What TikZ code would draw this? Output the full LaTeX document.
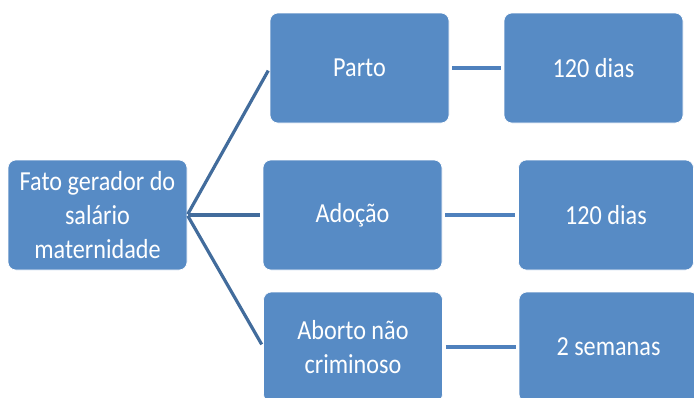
\documentclass[tikz,border=0pt]{standalone}
\usepackage{fontspec}
\setmainfont[FakeStretch=0.88]{Carlito}
\definecolor{boxfill}{RGB}{87,139,197}
\definecolor{slantline}{RGB}{66,108,156}
\definecolor{flatline}{RGB}{79,129,189}
\tikzset{
  sbox/.style={draw=white, line width=0.6pt, fill=boxfill, rounded corners=8pt,
    minimum width=179pt, minimum height=110pt, inner sep=0pt, align=center,
    text=white, font=\fontsize{27.5}{34}\selectfont},
  slant/.style={draw=slantline, line width=3.2pt, shorten >=3pt, shorten <=1pt},
  flat/.style={draw=flatline, line width=3.2pt, shorten >=3pt, shorten <=3pt},
}
\begin{document}
\begin{tikzpicture}[x=1pt,y=-1pt]
\useasboundingbox (0,0) rectangle (694,397);
\clip (0,0) rectangle (694,397);
\node[sbox] (root) at (97.5,215) {Fato gerador do\\salário\\maternidade};
\node[sbox] (parto) at (359.5,68) {Parto};
\node[sbox] (d1) at (593.5,68) {120 dias};
\node[sbox] (adocao) at (352.5,215) {Adoção};
\node[sbox, minimum width=175pt] (d2) at (606,215) {120 dias};
\node[sbox] (aborto) at (353,347) {Aborto não\\criminoso};
\node[sbox] (d3) at (608.5,347) {2 semanas};
\draw[slant] (root.east) -- (parto.west);
\draw[slant] (root.east) -- (adocao.west);
\draw[slant] (root.east) -- (aborto.west);
\draw[flat] (parto.east) -- (d1.west);
\draw[flat] (adocao.east) -- (d2.west);
\draw[flat] (aborto.east) -- (d3.west);
\end{tikzpicture}
\end{document}
